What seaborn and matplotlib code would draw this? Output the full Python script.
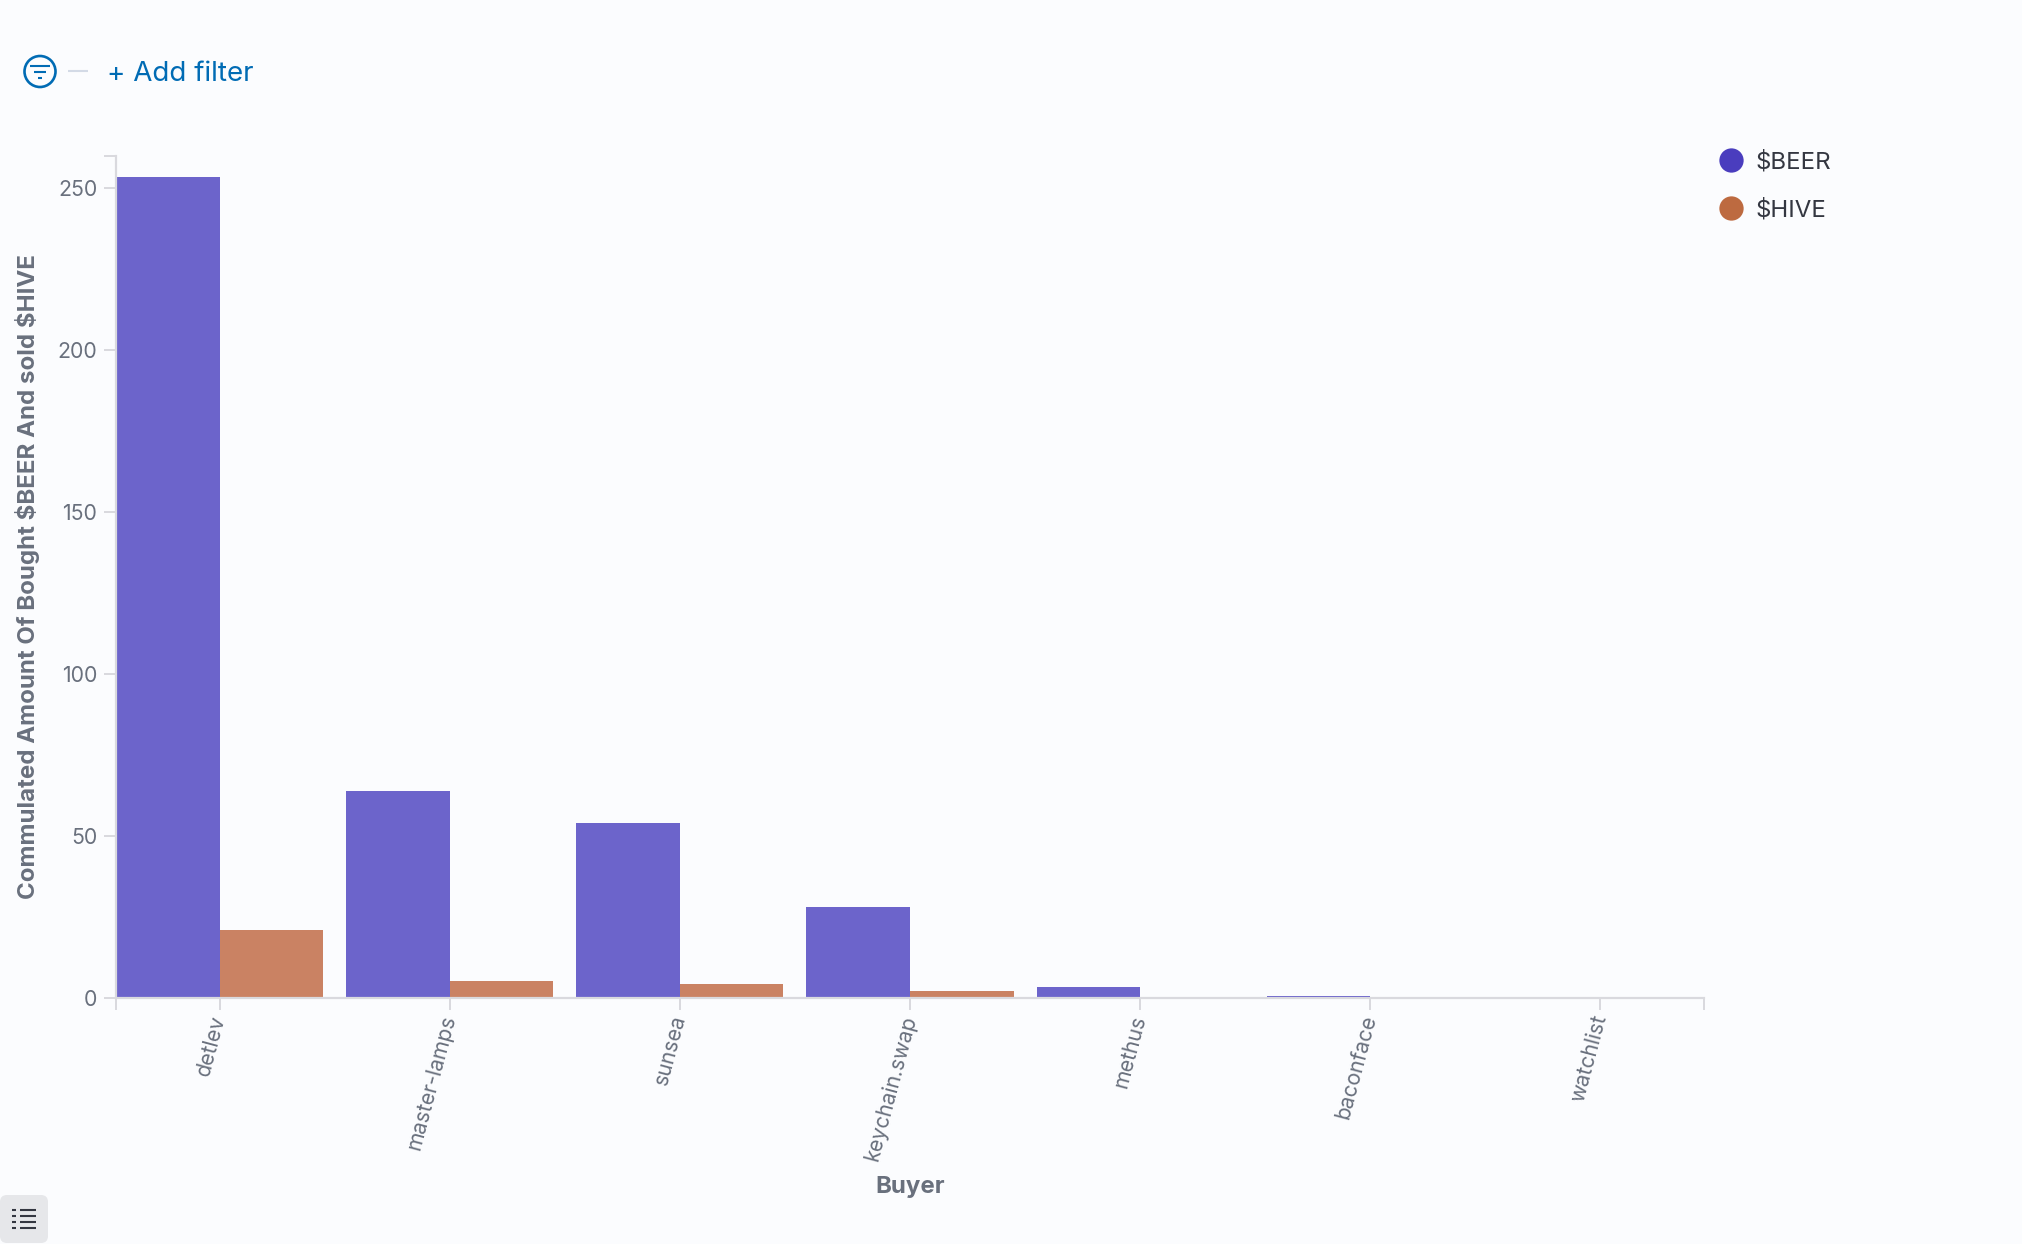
import matplotlib
matplotlib.use("Agg")
import matplotlib.pyplot as plt
from matplotlib.lines import Line2D
from matplotlib.patches import Circle, FancyBboxPatch
import pandas as pd
import seaborn as sns

buyers = ["detlev", "master-lamps", "sunsea", "keychain.swap", "methus", "baconface", "watchlist"]
beer_values = [253.4, 64, 54, 28, 3.4, 0.5, 0.03]
hive_values = [21, 5.2, 4.2, 2.3, 0.1, 0.02, 0.0]
series_names = ["$BEER", "$HIVE"]
y_ticks = [0, 50, 100, 150, 200, 250]
y_max = 260
title_y = "Commulated Amount Of Bought $BEER And sold $HIVE"
title_x = "Buyer"

BG = "#FBFCFE"
AXIS = "#D9D9DE"
TICK_TEXT = "#69707D"
LABEL_TEXT = "#69707D"
BAR_COLORS = {"$BEER": "#6C64CB", "$HIVE": "#CA8263"}
LEGEND_COLORS = {"$BEER": "#4A3DBE", "$HIVE": "#BD6A40"}

sns.set_theme(style="white")
plt.rcParams["font.family"] = ["Inter", "DejaVu Sans"]
plt.rcParams["text.parse_math"] = False

W, H = 2022, 1244
fig = plt.figure(figsize=(W / 100, H / 100), dpi=100, facecolor=BG)
ax = fig.add_axes([116 / W, 1 - 998 / H, (1704 - 116) / W, (998 - 156) / H], facecolor=BG)

df = pd.DataFrame({
    "Buyer": buyers * 2,
    "Series": [series_names[0]] * len(buyers) + [series_names[1]] * len(buyers),
    "Value": beer_values + hive_values,
})
sns.barplot(data=df, x="Buyer", y="Value", hue="Series", hue_order=series_names,
            order=buyers, palette=BAR_COLORS, saturation=1, width=0.9, gap=0,
            linewidth=0, ax=ax, legend=False)

ax.set_xlim(-0.45, len(buyers) - 1 + 0.45)
ax.set_ylim(0, y_max)
ax.set_yticks(y_ticks)
ax.set_yticks([y_max], minor=True)
ax.set_xticks(range(len(buyers)))
ax.set_xticks([-0.45, len(buyers) - 1 + 0.45], minor=True)
ax.set_xticklabels(buyers, rotation=75, ha="right", va="center", rotation_mode="anchor",
                   fontsize=15.3, color=TICK_TEXT)
ax.tick_params(axis="x", which="major", length=8.5, width=1.4, color=AXIS, pad=4, bottom=True)
ax.tick_params(axis="x", which="minor", length=8.5, width=1.4, color=AXIS, bottom=True)
ax.tick_params(axis="y", which="both", length=8.5, width=1.4, color=AXIS, pad=5, left=True)
ax.tick_params(axis="y", which="major", labelsize=15.3, labelcolor=TICK_TEXT)
for s in ("top", "right"):
    ax.spines[s].set_visible(False)
for s in ("left", "bottom"):
    ax.spines[s].set_color(AXIS)
    ax.spines[s].set_linewidth(1.6)
ax.set_axisbelow(False)
ax.set_xlabel("")
ax.set_ylabel("")

fig.text(28 / W, 1 - 577 / H, title_y, rotation=90, ha="center", va="center",
         fontsize=17.3, fontweight="bold", color=LABEL_TEXT)
fig.text(910 / W, 1 - 1187 / H, title_x, ha="center", va="center",
         fontsize=17.3, fontweight="bold", color=LABEL_TEXT)

handles = [Line2D([], [], marker="o", linestyle="none", markersize=17.5, markeredgewidth=0,
                  color=LEGEND_COLORS[n], label=n) for n in series_names]
leg = fig.legend(handles=handles, loc="upper left", bbox_to_anchor=(1707 / W, 1 - 151 / H),
                 frameon=False, fontsize=17.3, labelcolor="#343741", handletextpad=0.0,
                 labelspacing=1.05, borderpad=0, borderaxespad=0)

ui = fig.add_axes([0, 0, 1, 1], facecolor="none")
ui.set_xlim(0, W)
ui.set_ylim(H, 0)
ui.axis("off")
BLUE = "#006BB4"
ui.add_patch(Circle((40, 71.5), 15.5, fill=False, edgecolor=BLUE, linewidth=1.9))
for x0, x1, y in [(30, 50, 66), (34, 46, 72), (38, 42, 78)]:
    ui.plot([x0, x1], [y, y], color=BLUE, lw=1.5, solid_capstyle="butt")
ui.plot([68, 88], [71, 71], color="#D3DAE6", lw=1.5, solid_capstyle="butt")
ui.text(107, 74, "+ Add filter", color=BLUE, fontsize=20, ha="left", va="center")
ui.add_patch(FancyBboxPatch((0, 1195), 48, 48, boxstyle="round,pad=0,rounding_size=7", linewidth=0,
                            facecolor="#E6E7EA"))
for y in (1210, 1216, 1222, 1228):
    ui.plot([12, 16], [y, y], color="#343741", lw=1.5, solid_capstyle="butt")
    ui.plot([20, 36], [y, y], color="#343741", lw=1.5, solid_capstyle="butt")

fig.savefig("out.png", dpi=100, facecolor=BG)
